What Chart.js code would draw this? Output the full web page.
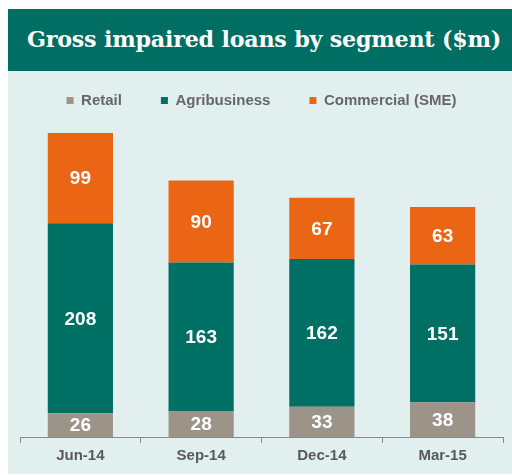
<!DOCTYPE html>
<html>
<head>
<meta charset="utf-8">
<script src="https://cdn.jsdelivr.net/npm/chart.js@4.4.1/dist/chart.umd.min.js"></script>
<style>
html,body{margin:0;padding:0;background:#fff;width:512px;height:475px;overflow:hidden;}
#title{position:absolute;left:8px;top:9px;width:496px;padding-left:8px;height:62px;background:#006E63;color:#fff;
font-family:"DejaVu Serif",Georgia,serif;font-weight:bold;font-size:22.2px;line-height:60px;text-align:center;letter-spacing:-0.2px;}
#panel{position:absolute;left:8px;top:71px;width:504px;height:403px;background:#E2EFEF;}
</style>
</head>
<body>
<div id="title">Gross impaired loans by segment ($m)</div>
<div id="panel"><canvas id="c" width="504" height="403"></canvas></div>
<script>
const categories = ["Jun-14", "Sep-14", "Dec-14", "Mar-15"];
const retail = [26, 28, 33, 38];
const agribusiness = [208, 163, 162, 151];
const commercial = [99, 90, 67, 63];

const LEGEND_PAD = 39;

const legendHeight = {
  id: 'legendHeight',
  beforeInit(chart) {
    const lg = chart.legend;
    if (!lg) return;
    const orig = lg.fit;
    lg.fit = function () { orig.call(this); this.height = 57; };
  }
};

const segLabels = {
  id: 'segLabels',
  afterDatasetsDraw(chart) {
    const ctx = chart.ctx;
    ctx.save();
    ctx.fillStyle = '#fff';
    ctx.font = 'bold 19px "Liberation Sans", Arial, sans-serif';
    ctx.textAlign = 'center';
    ctx.textBaseline = 'middle';
    chart.data.datasets.forEach((ds, i) => {
      const meta = chart.getDatasetMeta(i);
      meta.data.forEach((bar, j) => {
        const y = (bar.y + bar.base) / 2;
        ctx.fillText(String(ds.data[j]), bar.x, y + 1);
      });
    });
    ctx.restore();
  }
};

new Chart(document.getElementById('c'), {
  type: 'bar',
  data: {
    labels: categories,
    datasets: [
      { label: 'Retail', data: retail, backgroundColor: '#9C9489' },
      { label: 'Agribusiness', data: agribusiness, backgroundColor: '#006F64' },
      { label: 'Commercial (SME)', data: commercial, backgroundColor: '#EA6614' }
    ]
  },
  options: {
    responsive: false,
    animation: false,
    devicePixelRatio: 1,
    layout: { padding: { left: 12, right: 9, top: -17, bottom: 5 } },
    datasets: { bar: { categoryPercentage: 1, barPercentage: 0.54 } },
    plugins: {
      legend: {
        position: 'top',
        labels: {
          boxWidth: 7, boxHeight: 7, padding: LEGEND_PAD, color: '#666',
          font: { family: '"Liberation Sans", Arial, sans-serif', size: 15, weight: 'bold' }
        }
      },
      tooltip: { enabled: false }
    },
    scales: {
      x: {
        stacked: true,
        grid: { display: true, drawOnChartArea: false, drawTicks: true, tickLength: 6, color: '#8a8a8a', offset: true },
        border: { display: true, color: '#8a8a8a', width: 1 },
        ticks: { color: '#595959', padding: 4, font: { family: '"Liberation Sans", Arial, sans-serif', size: 15, weight: 'bold' } }
      },
      y: {
        stacked: true,
        display: false,
        min: 0,
        max: 357
      }
    }
  },
  plugins: [legendHeight, segLabels]
});
</script>
</body>
</html>
